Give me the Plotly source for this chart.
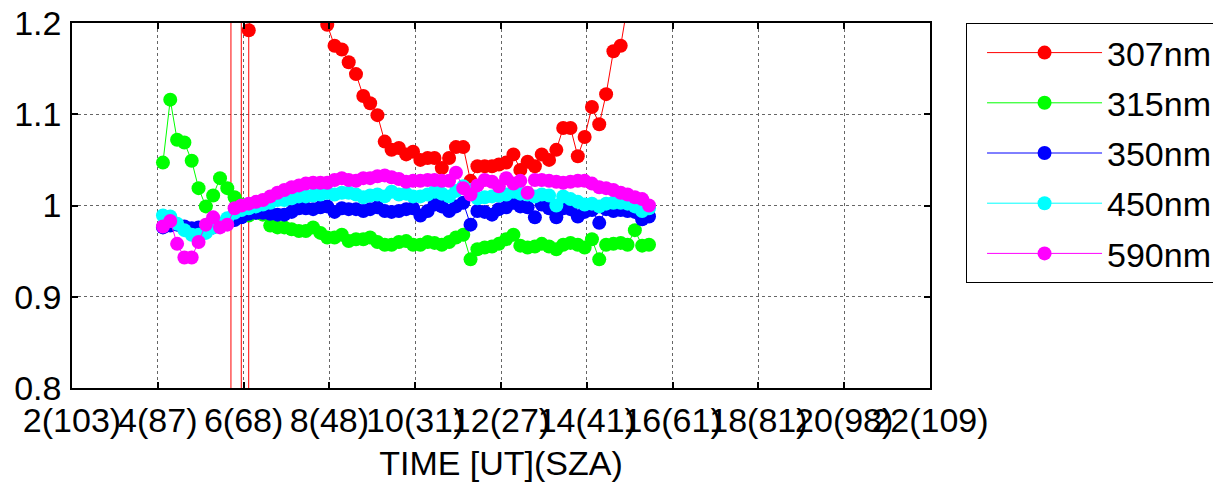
import plotly.graph_objects as go

# Measurement times [UT hours], ~10-minute sampling
time_ut = [4.12, 4.29, 4.45, 4.62, 4.79, 4.95, 5.12, 5.29, 5.45, 5.62, 5.79, 5.95,
           6.12, 6.29, 6.45, 6.62, 6.79, 6.95, 7.12, 7.29, 7.45, 7.62, 7.79, 7.95,
           8.12, 8.29, 8.45, 8.62, 8.79, 8.95, 9.12, 9.29, 9.45, 9.62, 9.79, 9.95,
           10.12, 10.29, 10.45, 10.62, 10.79, 10.95, 11.12, 11.29, 11.45, 11.62, 11.79, 11.95,
           12.12, 12.29, 12.45, 12.62, 12.79, 12.95, 13.12, 13.29, 13.45, 13.62, 13.79, 13.95,
           14.12, 14.29, 14.45, 14.62, 14.79, 14.95, 15.12, 15.29, 15.45]

nan = None
r307 = [nan, nan, nan, nan, nan, nan, nan, nan, nan, -2000, 2000, -50,
        1.192, 1.25, 1.28, 1.30, 1.32, 1.30, 1.28, 1.26, 1.25, 1.24, 1.24, 1.198,
        1.175, 1.171, 1.157, 1.144, 1.120, 1.112, 1.099, 1.070, 1.061, 1.063, 1.056, 1.059,
        1.050, 1.052, 1.052, 1.041, 1.052, 1.064, 1.064, 1.027, 1.043, 1.043, 1.043, 1.045,
        1.047, 1.056, 1.039, 1.048, 1.043, 1.056, 1.050, 1.061, 1.085, 1.085, 1.054, 1.075,
        1.108, 1.089, 1.122, 1.169, 1.175, 1.22, 1.26, 1.30, 1.34]

r315 = [1.047, 1.116, 1.072, 1.069, 1.049, 1.019, 0.999, 1.011, 1.030, 1.019, 1.009, 1.001,
        0.989, 0.992, 0.990, 0.978, 0.976, 0.976, 0.974, 0.972, 0.972, 0.976, 0.970, 0.965,
        0.965, 0.968, 0.961, 0.963, 0.963, 0.965, 0.960, 0.957, 0.957, 0.960, 0.961, 0.957,
        0.957, 0.960, 0.959, 0.957, 0.960, 0.965, 0.968, 0.941, 0.952, 0.954, 0.955, 0.958,
        0.963, 0.968, 0.956, 0.954, 0.955, 0.958, 0.955, 0.952, 0.957, 0.959, 0.957, 0.954,
        0.963, 0.941, 0.957, 0.958, 0.959, 0.957, 0.973, 0.956, 0.957]

r350 = [0.976, 0.978, 0.979, 0.977, 0.975, 0.976, 0.977, 0.976, 0.978, 0.981, 0.984, 0.987,
        0.991, 0.992, 0.992, 0.991, 0.990, 0.990, 0.993, 0.997, 0.997, 0.996, 0.998, 0.999,
        0.993, 0.997, 0.996, 0.996, 0.994, 0.996, 0.998, 0.994, 0.993, 0.994, 0.996, 0.997,
        0.989, 0.994, 1.001, 0.999, 0.994, 0.999, 1.003, 0.979, 0.994, 0.993, 0.990, 0.996,
        0.998, 1.003, 0.999, 0.998, 0.987, 1.001, 0.997, 0.987, 0.997, 0.996, 0.988, 0.993,
        0.995, 0.981, 0.996, 0.994, 0.995, 0.994, 0.993, 0.985, 0.988]

r450 = [0.989, 0.988, 0.980, 0.973, 0.968, 0.968, 0.970, 0.976, 0.980, 0.986, 0.992, 0.995,
        0.997, 0.999, 1.001, 1.003, 1.006, 1.006, 1.008, 1.010, 1.010, 1.011, 1.012, 1.014,
        1.012, 1.014, 1.014, 1.012, 1.009, 1.011, 1.012, 1.010, 1.015, 1.012, 1.013, 1.010,
        1.010, 1.012, 1.015, 1.013, 1.010, 1.016, 1.021, 1.017, 1.008, 1.009, 1.010, 1.011,
        1.012, 1.015, 1.013, 1.012, 1.010, 1.012, 1.011, 1.000, 1.010, 1.007, 1.004, 1.001,
        1.002, 0.999, 1.002, 1.003, 1.003, 1.002, 0.999, 0.994, 0.997]

r590 = [0.977, 0.983, 0.958, 0.943, 0.943, 0.960, 0.979, 0.987, 0.976, 0.979, 0.997, 1.000,
        1.002, 1.004, 1.006, 1.010, 1.014, 1.017, 1.020, 1.022, 1.024, 1.025, 1.025, 1.025,
        1.028, 1.030, 1.028, 1.027, 1.030, 1.030, 1.032, 1.033, 1.031, 1.029, 1.026, 1.027,
        1.027, 1.028, 1.028, 1.027, 1.027, 1.036, 1.019, 1.012, 1.022, 1.028, 1.026, 1.021,
        1.030, 1.024, 1.027, 1.014, 1.028, 1.028, 1.027, 1.026, 1.025, 1.026, 1.027, 1.027,
        1.024, 1.020, 1.019, 1.017, 1.014, 1.012, 1.009, 1.007, 1.000]

series_names = ["307nm", "315nm", "350nm", "450nm", "590nm"]
series_values = [r307, r315, r350, r450, r590]
series_colors = ["#FF0000", "#00FF00", "#0000FF", "#00FFFF", "#FF00FF"]

x_tickvals = [2, 4, 6, 8, 10, 12, 14, 16, 18, 20, 22]
x_ticktext = ["2(103)", "4(87)", "6(68)", "8(48)", "10(31)", "12(27)", "14(41)",
              "16(61)", "18(81)", "20(98)", "22(109)"]
y_tickvals = [0.8, 0.9, 1.0, 1.1, 1.2]
y_ticktext = ["0.8", "0.9", "1", "1.1", "1.2"]

FONT = "Liberation Sans, Arial, sans-serif"

fig = go.Figure()
for name, vals, col in zip(series_names, series_values, series_colors):
    fig.add_trace(go.Scatter(
        x=time_ut, y=vals, name=name, mode="lines+markers",
        line=dict(color=col, width=1),
        marker=dict(color=col, size=14, line=dict(width=0)),
        connectgaps=False, legendgroup=name,
    ))

axis_common = dict(
    showline=True, linecolor="black", linewidth=1.5, mirror="ticks",
    ticks="inside", ticklen=6, tickcolor="black", tickwidth=1.5,
    showgrid=True, gridcolor="#666666", griddash="dot", gridwidth=1,
    zeroline=False, tickfont=dict(family=FONT, size=34, color="black"),
)

fig.update_xaxes(range=[2, 22], tickmode="array", tickvals=x_tickvals, ticktext=x_ticktext,
                 tickangle=0, ticklabelstandoff=1,
                 title=dict(text="TIME [UT](SZA)", font=dict(family=FONT, size=34, color="black"),
                            standoff=14),
                 **axis_common)
fig.update_yaxes(range=[0.8, 1.2], tickmode="array", tickvals=y_tickvals, ticktext=y_ticktext,
                 ticklabelstandoff=2, **axis_common)

fig.update_layout(
    width=1213, height=485,
    margin=dict(l=72, r=283, t=23, b=97, autoexpand=False),
    paper_bgcolor="white", plot_bgcolor="white",
    font=dict(family=FONT, size=34, color="black"),
    showlegend=True,
    legend=dict(x=1.042, y=1, xanchor="left", yanchor="top",
                bordercolor="black", borderwidth=1, bgcolor="white",
                font=dict(family=FONT, size=34, color="black"),
                itemwidth=115, indentation=15, tracegroupgap=3),
)

fig.write_html("out.html", config={"displayModeBar": False},
               post_script="document.body.style.margin='0';document.body.style.overflow='hidden';")
